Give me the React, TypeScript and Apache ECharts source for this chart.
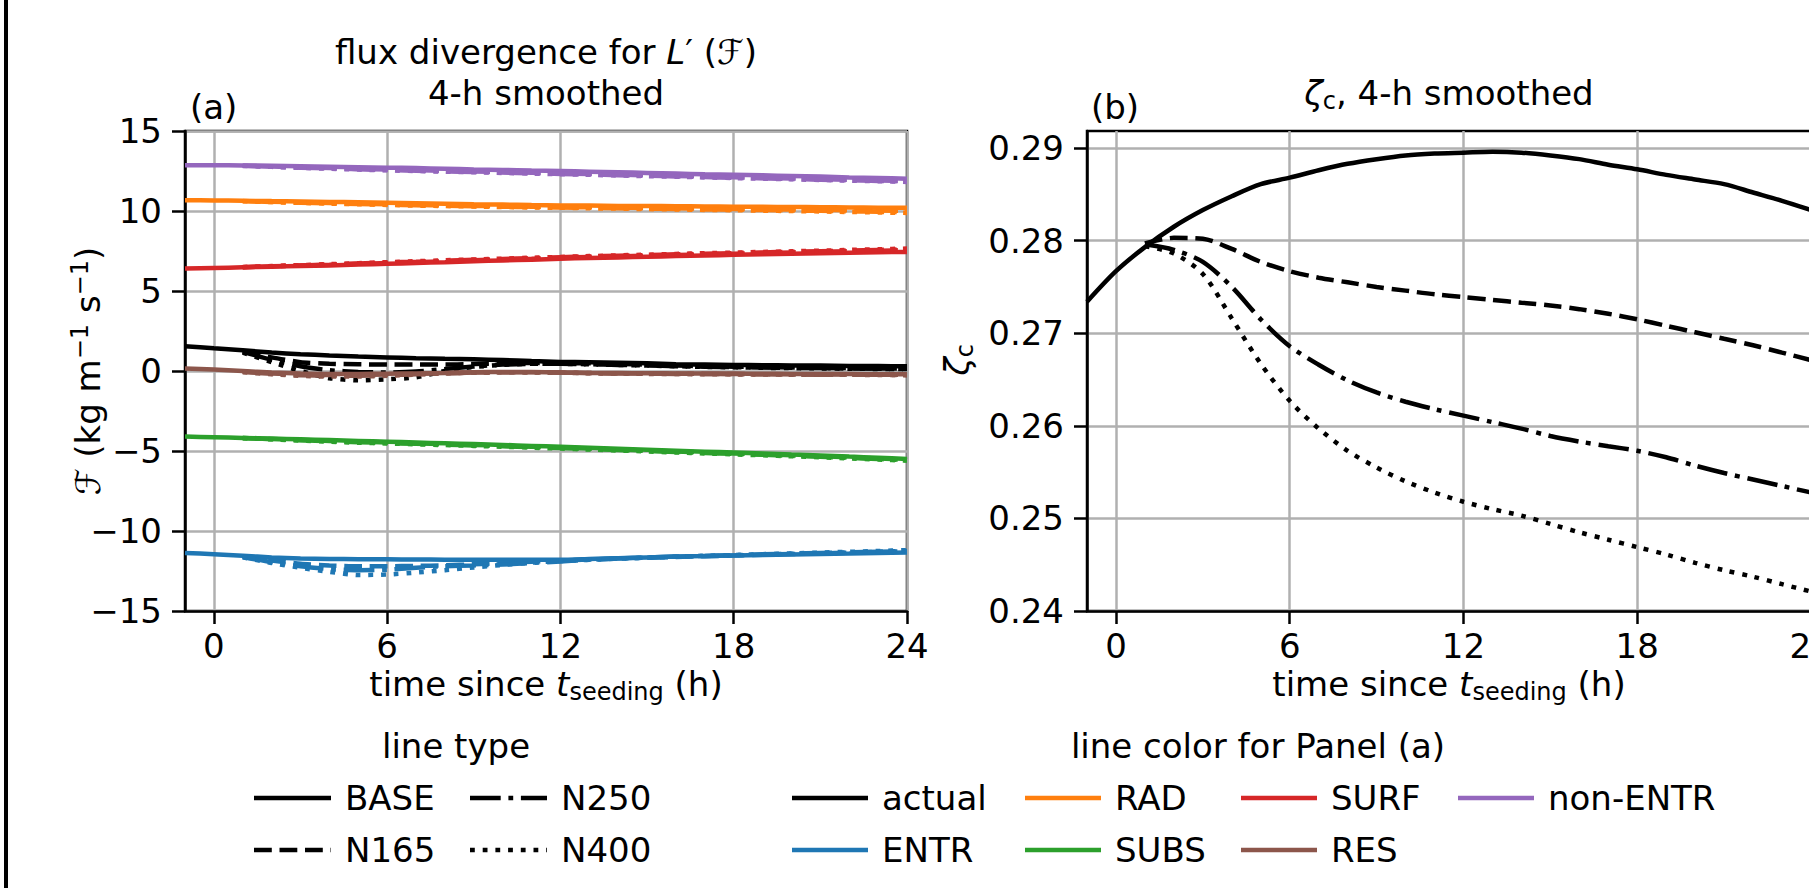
import React, { useEffect, useRef } from "react";
import * as echarts from "echarts";

// ---------------- data ----------------
const hours = [-1, 0, 1, 2, 3, 4, 5, 6, 7, 8, 9, 10, 11, 12, 13, 14, 15, 16, 17, 18, 19, 20, 21, 22, 23, 24];
const xTicks = [0, 6, 12, 18, 24];
const yTicksA = [-15, -10, -5, 0, 5, 10, 15];
const yTicksB = [0.24, 0.25, 0.26, 0.27, 0.28, 0.29];

const experiments = ["BASE", "N165", "N250", "N400"];
const components = ["actual", "ENTR", "RAD", "SUBS", "SURF", "RES", "non-ENTR"];

// panel (a): flux divergence (kg m^-1 s^-1)
const actual_BASE = [1.55, 1.42, 1.3, 1.15, 1.05, 0.97, 0.9, 0.85, 0.8, 0.76, 0.73, 0.68, 0.62, 0.57, 0.55, 0.52, 0.48, 0.42, 0.4, 0.38, 0.36, 0.35, 0.34, 0.32, 0.31, 0.29];
const actual_N165 = [null, null, 1.25, 0.85, 0.55, 0.45, 0.42, 0.4, 0.4, 0.4, 0.44, 0.48, 0.5, 0.5, 0.48, 0.45, 0.4, 0.35, 0.3, 0.27, 0.25, 0.22, 0.2, 0.18, 0.16, 0.15];
const actual_N250 = [null, null, 1.2, 0.7, 0.3, 0.05, -0.06, -0.1, -0.03, 0.12, 0.28, 0.4, 0.45, 0.45, 0.42, 0.38, 0.35, 0.3, 0.27, 0.24, 0.22, 0.2, 0.18, 0.16, 0.14, 0.12];
const actual_N400 = [null, null, 1.15, 0.55, 0.0, -0.45, -0.58, -0.52, -0.4, 0.0, 0.25, 0.38, 0.45, 0.45, 0.42, 0.38, 0.34, 0.3, 0.26, 0.23, 0.2, 0.18, 0.16, 0.14, 0.13, 0.12];

const ENTR_BASE = [-11.37, -11.45, -11.55, -11.65, -11.72, -11.75, -11.76, -11.77, -11.78, -11.79, -11.8, -11.8, -11.8, -11.8, -11.75, -11.7, -11.65, -11.6, -11.57, -11.53, -11.5, -11.47, -11.43, -11.4, -11.37, -11.35];
const ENTR_N165 = [null, null, -11.6, -11.85, -12.05, -12.15, -12.2, -12.2, -12.18, -12.15, -12.08, -12.0, -11.92, -11.85, -11.78, -11.72, -11.67, -11.62, -11.58, -11.53, -11.48, -11.44, -11.4, -11.35, -11.3, -11.27];
const ENTR_N250 = [null, null, -11.62, -11.95, -12.2, -12.38, -12.45, -12.42, -12.3, -12.2, -12.15, -12.1, -12.0, -11.9, -11.8, -11.72, -11.66, -11.6, -11.56, -11.51, -11.46, -11.42, -11.37, -11.33, -11.29, -11.25];
const ENTR_N400 = [null, null, -11.65, -12.0, -12.3, -12.55, -12.75, -12.72, -12.6, -12.45, -12.28, -12.12, -11.98, -11.88, -11.8, -11.73, -11.67, -11.61, -11.55, -11.5, -11.45, -11.4, -11.35, -11.3, -11.25, -11.2];

const RAD_BASE = [10.67, 10.66, 10.64, 10.62, 10.6, 10.57, 10.54, 10.51, 10.48, 10.45, 10.42, 10.4, 10.37, 10.35, 10.34, 10.32, 10.31, 10.3, 10.28, 10.27, 10.26, 10.25, 10.24, 10.22, 10.21, 10.2];
const RAD_N165 = [null, null, 10.62, 10.58, 10.54, 10.5, 10.46, 10.42, 10.38, 10.35, 10.32, 10.3, 10.27, 10.25, 10.23, 10.21, 10.19, 10.17, 10.15, 10.13, 10.11, 10.09, 10.07, 10.05, 10.03, 10.0];
const RAD_N250 = [null, null, 10.62, 10.57, 10.52, 10.48, 10.44, 10.4, 10.36, 10.33, 10.3, 10.27, 10.24, 10.22, 10.2, 10.17, 10.15, 10.13, 10.1, 10.08, 10.06, 10.03, 10.01, 9.98, 9.95, 9.92];
const RAD_N400 = [null, null, 10.61, 10.56, 10.51, 10.46, 10.42, 10.38, 10.34, 10.31, 10.28, 10.25, 10.22, 10.2, 10.17, 10.15, 10.12, 10.1, 10.07, 10.05, 10.02, 10.0, 9.97, 9.94, 9.91, 9.88];

const SUBS_BASE = [-4.1, -4.14, -4.18, -4.22, -4.27, -4.32, -4.37, -4.42, -4.47, -4.52, -4.57, -4.62, -4.68, -4.74, -4.8, -4.86, -4.92, -4.98, -5.04, -5.1, -5.16, -5.22, -5.28, -5.35, -5.42, -5.5];
const SUBS_N165 = [null, null, -4.19, -4.25, -4.31, -4.37, -4.42, -4.47, -4.52, -4.57, -4.62, -4.67, -4.73, -4.79, -4.85, -4.91, -4.97, -5.03, -5.09, -5.15, -5.21, -5.27, -5.33, -5.4, -5.47, -5.55];
const SUBS_N250 = [null, null, -4.19, -4.26, -4.33, -4.39, -4.45, -4.5, -4.55, -4.6, -4.65, -4.7, -4.76, -4.82, -4.88, -4.94, -5.0, -5.06, -5.12, -5.18, -5.24, -5.3, -5.36, -5.43, -5.5, -5.58];
const SUBS_N400 = [null, null, -4.2, -4.27, -4.35, -4.42, -4.48, -4.53, -4.58, -4.63, -4.68, -4.73, -4.79, -4.85, -4.91, -4.97, -5.03, -5.09, -5.15, -5.21, -5.27, -5.33, -5.39, -5.46, -5.53, -5.6];

const SURF_BASE = [6.4, 6.44, 6.48, 6.52, 6.56, 6.6, 6.65, 6.7, 6.75, 6.8, 6.86, 6.91, 6.96, 7.02, 7.06, 7.1, 7.14, 7.18, 7.22, 7.26, 7.3, 7.33, 7.36, 7.39, 7.42, 7.44];
const SURF_N165 = [null, null, 6.49, 6.54, 6.59, 6.64, 6.7, 6.75, 6.8, 6.86, 6.92, 6.97, 7.02, 7.08, 7.13, 7.17, 7.21, 7.25, 7.29, 7.33, 7.37, 7.41, 7.45, 7.49, 7.52, 7.55];
const SURF_N250 = [null, null, 6.49, 6.55, 6.6, 6.66, 6.72, 6.78, 6.83, 6.89, 6.95, 7.0, 7.05, 7.11, 7.16, 7.2, 7.24, 7.29, 7.33, 7.37, 7.41, 7.45, 7.49, 7.53, 7.57, 7.6];
const SURF_N400 = [null, null, 6.5, 6.56, 6.62, 6.68, 6.74, 6.8, 6.86, 6.92, 6.97, 7.02, 7.08, 7.13, 7.18, 7.23, 7.27, 7.32, 7.36, 7.4, 7.44, 7.48, 7.52, 7.57, 7.61, 7.65];

const RES_BASE = [0.15, 0.1, 0.0, -0.1, -0.15, -0.18, -0.18, -0.17, -0.15, -0.12, -0.08, -0.06, -0.07, -0.1, -0.12, -0.13, -0.14, -0.15, -0.16, -0.16, -0.17, -0.18, -0.18, -0.19, -0.2, -0.2];
const RES_N165 = [null, null, -0.05, -0.15, -0.22, -0.25, -0.25, -0.22, -0.18, -0.14, -0.1, -0.08, -0.08, -0.1, -0.13, -0.15, -0.16, -0.17, -0.18, -0.19, -0.2, -0.21, -0.22, -0.22, -0.23, -0.24];
const RES_N250 = [null, null, -0.05, -0.18, -0.26, -0.3, -0.3, -0.27, -0.2, -0.15, -0.1, -0.08, -0.08, -0.1, -0.13, -0.15, -0.17, -0.18, -0.19, -0.2, -0.21, -0.22, -0.23, -0.23, -0.24, -0.25];
const RES_N400 = [null, null, -0.08, -0.2, -0.3, -0.35, -0.35, -0.3, -0.22, -0.15, -0.1, -0.08, -0.09, -0.11, -0.14, -0.16, -0.18, -0.19, -0.2, -0.21, -0.22, -0.23, -0.24, -0.24, -0.25, -0.26];

const NONENTR_BASE = [12.86, 12.86, 12.85, 12.83, 12.8, 12.77, 12.74, 12.71, 12.68, 12.64, 12.6, 12.57, 12.53, 12.5, 12.46, 12.42, 12.38, 12.34, 12.3, 12.27, 12.23, 12.19, 12.15, 12.1, 12.06, 12.02];
const NONENTR_N165 = [null, null, 12.83, 12.78, 12.73, 12.68, 12.63, 12.59, 12.55, 12.51, 12.47, 12.43, 12.39, 12.35, 12.31, 12.27, 12.23, 12.19, 12.15, 12.11, 12.07, 12.03, 11.99, 11.95, 11.91, 11.87];
const NONENTR_N250 = [null, null, 12.83, 12.77, 12.71, 12.66, 12.61, 12.56, 12.52, 12.48, 12.44, 12.4, 12.36, 12.32, 12.28, 12.24, 12.2, 12.16, 12.12, 12.08, 12.04, 12.0, 11.96, 11.92, 11.88, 11.84];
const NONENTR_N400 = [null, null, 12.82, 12.76, 12.7, 12.64, 12.59, 12.54, 12.5, 12.46, 12.42, 12.38, 12.34, 12.3, 12.26, 12.22, 12.18, 12.14, 12.1, 12.06, 12.02, 11.98, 11.94, 11.9, 11.86, 11.82];

// panel (b): zeta_c
const zeta_BASE = [0.2734, 0.2767, 0.2793, 0.2815, 0.2833, 0.2848, 0.2861, 0.2868, 0.2876, 0.2883, 0.2888, 0.2892, 0.2894, 0.2895, 0.2896, 0.2895, 0.2892, 0.2888, 0.2882, 0.2877, 0.2871, 0.2866, 0.2861, 0.2852, 0.2843, 0.2833];
const zeta_N165 = [null, null, 0.2797, 0.2803, 0.2802, 0.2791, 0.2777, 0.2767, 0.276, 0.2755, 0.275, 0.2746, 0.2742, 0.2739, 0.2736, 0.2733, 0.273, 0.2726, 0.2721, 0.2715, 0.2708, 0.2701, 0.2694, 0.2687, 0.2679, 0.2671];
const zeta_N250 = [null, null, 0.2796, 0.279, 0.2777, 0.275, 0.2715, 0.2686, 0.2666, 0.2649, 0.2636, 0.2626, 0.2618, 0.2611, 0.2604, 0.2597, 0.2589, 0.2583, 0.2578, 0.2573, 0.2566, 0.2557, 0.2549, 0.2542, 0.2535, 0.2528];
const zeta_N400 = [null, null, 0.2794, 0.2786, 0.2764, 0.2716, 0.2667, 0.2627, 0.2597, 0.2573, 0.2555, 0.254, 0.2528, 0.2518, 0.251, 0.2503, 0.2494, 0.2485, 0.2477, 0.2469, 0.2461, 0.2452, 0.2444, 0.2437, 0.2429, 0.2421];

const panelA: Record<string, (number | null)[][]> = {
  actual: [actual_BASE, actual_N165, actual_N250, actual_N400],
  ENTR: [ENTR_BASE, ENTR_N165, ENTR_N250, ENTR_N400],
  RAD: [RAD_BASE, RAD_N165, RAD_N250, RAD_N400],
  SUBS: [SUBS_BASE, SUBS_N165, SUBS_N250, SUBS_N400],
  SURF: [SURF_BASE, SURF_N165, SURF_N250, SURF_N400],
  RES: [RES_BASE, RES_N165, RES_N250, RES_N400],
  "non-ENTR": [NONENTR_BASE, NONENTR_N165, NONENTR_N250, NONENTR_N400],
};
const panelB = [zeta_BASE, zeta_N165, zeta_N250, zeta_N400];

// ---------------- styles ----------------
const FONT = "'DejaVu Sans', sans-serif";
const FS = 34;
const LW = 4.5;
const compColors: Record<string, string> = {
  actual: "#000000",
  ENTR: "#1f77b4",
  RAD: "#ff7f0e",
  SUBS: "#2ca02c",
  SURF: "#d62728",
  RES: "#8c564b",
  "non-ENTR": "#9467bd",
};
const dashes: Record<string, any> = {
  BASE: "solid",
  N165: [17.8, 7.7],
  N250: [30.7, 7.7, 4.8, 7.7],
  N400: [4.8, 7.9],
};

function toPairs(arr: (number | null)[]) {
  return hours.map((h, i) => [h, arr[i] === null || arr[i] === undefined ? null : arr[i]]);
}

function makeXAxis(gridIndex: number) {
  return {
    gridIndex,
    type: "value",
    min: -1,
    max: 24,
    axisLine: { show: true, onZero: false, lineStyle: { color: "#000", width: 2.5 } },
    axisTick: { show: true, length: 13, customValues: xTicks, lineStyle: { color: "#000", width: 2.5 } },
    axisLabel: {
      customValues: xTicks,
      fontSize: FS,
      fontFamily: FONT,
      color: "#000",
      margin: 18,
      formatter: (v: number) => String(v),
    },
    splitLine: { show: true, lineStyle: { color: "#b0b0b0", width: 2.5 } },
  };
}

const minusFmt = (v: number) => (v < 0 ? "\u2212" + String(Math.abs(v)) : String(v));

export default function App() {
  const ref = useRef<HTMLDivElement>(null);
  useEffect(() => {
    document.body.style.margin = "0";
    const chart = echarts.init(ref.current!, null, { renderer: "svg", width: 1809, height: 888 });

    const series: any[] = [];
    components.forEach((c) => {
      experiments.forEach((e, k) => {
        series.push({
          type: "line",
          name: c + " " + e,
          xAxisIndex: 0,
          yAxisIndex: 0,
          data: toPairs(panelA[c][k]),
          showSymbol: false,
          symbol: "none",
          smooth: 0.2,
          silent: true,
          lineStyle: { color: compColors[c], width: LW, type: dashes[e], cap: "butt" },
        });
      });
    });
    experiments.forEach((e, k) => {
      series.push({
        type: "line",
        name: "zeta " + e,
        xAxisIndex: 1,
        yAxisIndex: 1,
        data: toPairs(panelB[k]),
        showSymbol: false,
        symbol: "none",
        smooth: 0.3,
        silent: true,
        lineStyle: { color: "#000", width: LW, type: dashes[e], cap: "butt" },
      });
    });

    const richBase = {
      n: { fontSize: FS, fontFamily: FONT, lineHeight: 40, fill: "#000" },
      it: { fontSize: FS, fontFamily: FONT, fontStyle: "italic", lineHeight: 40, fill: "#000" },
      sub: { fontSize: 24, fontFamily: FONT, lineHeight: 20, verticalAlign: "bottom", fill: "#000" },
      sup: { fontSize: 24, fontFamily: FONT, lineHeight: 22, verticalAlign: "top", fill: "#000" },
    };
    const txt = (x: number, y: number, text: string, align = "center", rotation = 0) => ({
      type: "text",
      x,
      y,
      rotation,
      silent: true,
      style: {
        text,
        rich: richBase,
        fontSize: FS,
        fontFamily: FONT,
        fill: "#000",
        align,
        verticalAlign: "middle",
      },
    });

    const graphic: any[] = [
      { type: "rect", shape: { x: 4, y: 0, width: 4, height: 888 }, style: { fill: "#000" }, silent: true },
      txt(546, 52, "{n|flux divergence for }{it|L}{n|\u2032 (}{n|\u2131}{n|)}"),
      txt(546, 93, "{n|4-h smoothed}"),
      txt(190, 107, "{n|(a)}", "left"),
      txt(1449, 93, "{it|\u03b6}{sub|c}{n|, 4-h smoothed}"),
      txt(1091, 107, "{n|(b)}", "left"),
      txt(546, 684, "{n|time since }{it|t}{sub|seeding}{n| (h)}"),
      txt(1449, 684, "{n|time since }{it|t}{sub|seeding}{n| (h)}"),
      txt(88, 371, "{n|\u2131 (kg m}{sup|\u22121}{n| s}{sup|\u22121}{n|)}", "center", Math.PI / 2),
      txt(957, 360, "{it|\u03b6}{sub|c}", "center", Math.PI / 2),
      txt(456, 746, "{n|line type}"),
      txt(1258, 746, "{n|line color for Panel (a)}"),
    ];

    const legend1 = [
      { label: "BASE", dash: dashes.BASE, x: 254, y: 798 },
      { label: "N250", dash: dashes.N250, x: 470, y: 798 },
      { label: "N165", dash: dashes.N165, x: 254, y: 850 },
      { label: "N400", dash: dashes.N400, x: 470, y: 850 },
    ];
    legend1.forEach((it) => {
      graphic.push({
        type: "line",
        silent: true,
        shape: { x1: it.x, y1: it.y, x2: it.x + 77, y2: it.y },
        style: { stroke: "#000", lineWidth: LW, lineDash: it.dash === "solid" ? null : it.dash, lineCap: "butt" },
      });
      graphic.push(txt(it.x + 91, it.y, "{n|" + it.label + "}", "left"));
    });
    const legend2 = [
      { label: "actual", x: 792, y: 798 },
      { label: "RAD", x: 1025, y: 798 },
      { label: "SURF", x: 1241, y: 798 },
      { label: "non-ENTR", x: 1458, y: 798 },
      { label: "ENTR", x: 792, y: 850 },
      { label: "SUBS", x: 1025, y: 850 },
      { label: "RES", x: 1241, y: 850 },
    ];
    legend2.forEach((it) => {
      graphic.push({
        type: "line",
        silent: true,
        shape: { x1: it.x, y1: it.y, x2: it.x + 76, y2: it.y },
        style: { stroke: compColors[it.label], lineWidth: LW, lineCap: "butt" },
      });
      graphic.push(txt(it.x + 90, it.y, "{n|" + it.label + "}", "left"));
    });

    const option: any = {
      animation: false,
      backgroundColor: "#ffffff",
      textStyle: { fontFamily: FONT },
      grid: [
        { left: 185, top: 131, width: 722, height: 480, show: true, borderColor: "#000", borderWidth: 2.5, backgroundColor: "transparent", outerBoundsMode: "none", containLabel: false },
        { left: 1087, top: 131, width: 724, height: 480, show: true, borderColor: "#000", borderWidth: 2.5, backgroundColor: "transparent", outerBoundsMode: "none", containLabel: false },
      ],
      xAxis: [makeXAxis(0), makeXAxis(1)],
      yAxis: [
        {
          gridIndex: 0,
          type: "value",
          min: -15,
          max: 15,
          axisLine: { show: true, onZero: false, lineStyle: { color: "#000", width: 2.5 } },
          axisTick: { show: true, length: 13, customValues: yTicksA, lineStyle: { color: "#000", width: 2.5 } },
          axisLabel: { customValues: yTicksA, fontSize: FS, fontFamily: FONT, color: "#000", margin: 23, formatter: minusFmt },
          splitLine: { show: true, lineStyle: { color: "#b0b0b0", width: 2.5 } },
        },
        {
          gridIndex: 1,
          type: "value",
          min: 0.24,
          max: 0.29184,
          axisLine: { show: true, onZero: false, lineStyle: { color: "#000", width: 2.5 } },
          axisTick: { show: true, length: 13, customValues: yTicksB, lineStyle: { color: "#000", width: 2.5 } },
          axisLabel: {
            customValues: yTicksB,
            fontSize: FS,
            fontFamily: FONT,
            color: "#000",
            margin: 23,
            formatter: (v: number) => v.toFixed(2),
          },
          splitLine: { show: true, lineStyle: { color: "#b0b0b0", width: 2.5 } },
        },
      ],
      series,
      graphic,
    };
    chart.setOption(option);
    return () => chart.dispose();
  }, []);
  return <div ref={ref} style={{ position: "absolute", left: 0, top: 0, width: 1809, height: 888 }} />;
}
